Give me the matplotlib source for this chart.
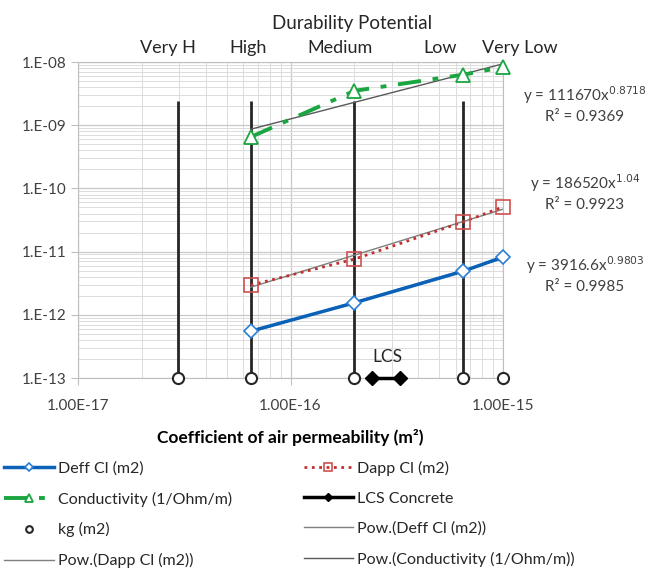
import numpy as np
import matplotlib
matplotlib.use("Agg")
import matplotlib.pyplot as plt
from matplotlib.ticker import LogLocator, NullFormatter

plt.rcParams['font.family'] = ['Lato', 'DejaVu Sans']

# data
perm = [6.5e-17, 2e-16, 6.5e-16, 1e-15]
deff = [5.5e-13, 1.55e-12, 4.9e-12, 8.2e-12]
dapp = [2.95e-12, 7.6e-12, 2.95e-11, 5.1e-11]
cond = [6.5e-10, 3.5e-9, 6.3e-9, 8.3e-9]

lcs_x = [2.42e-16, 3.27e-16]
lcs_y = [1e-13, 1e-13]

kg_x = [2.95e-17, 6.5e-17, 2e-16, 6.5e-16, 1e-15]
kg_y = [1e-13, 1e-13, 1e-13, 1e-13, 1e-13]
kg_top = [2.4e-9, 2.4e-9, 2.4e-9, 2.4e-9, 1e-13]

# power trendlines (coef, exponent, R2) as printed on the chart
fit_deff = (3916.6, 0.9803, 0.9985)
fit_dapp = (186520, 1.04, 0.9923)
fit_cond = (111670, 0.8718, 0.9369)

potential = ["Very H", "High", "Medium", "Low", "Very Low"]
potential_x = [2.65e-17, 6.3e-17, 1.71e-16, 5.06e-16, 1.2e-15]


def power(fit, x):
    return fit[0] * np.asarray(x) ** fit[1]


fig = plt.figure(figsize=(6.49, 5.72), dpi=100)
ax = fig.add_axes([78 / 649, 1 - 378 / 572, 425 / 649, 316 / 572])
ax.set_xscale('log')
ax.set_yscale('log')
ax.set_xlim(1e-17, 1e-15)
ax.set_ylim(1e-13, 1e-8)

ax.xaxis.set_minor_locator(LogLocator(base=10, subs=np.arange(2, 10)))
ax.yaxis.set_minor_locator(LogLocator(base=10, subs=np.arange(2, 10)))
ax.xaxis.set_minor_formatter(NullFormatter())
ax.yaxis.set_minor_formatter(NullFormatter())
ax.grid(True, which='major', color='#c8c8c8', lw=0.9)
ax.grid(True, which='minor', color='#dcdcdc', lw=0.7)
ax.set_axisbelow(True)
for s in ax.spines.values():
    s.set_color('#bfbfbf')
ax.tick_params(which='minor', length=0)
ax.tick_params(which='major', length=5, color='#bfbfbf', labelsize=11,
               labelcolor='#404040')
ax.tick_params(axis='x', which='major', pad=10)

ax.set_xticks([1e-17, 1e-16, 1e-15])
ax.set_xticklabels(["1.00E-17", "1.00E-16", "1.00E-15"])
yt = [1e-13, 1e-12, 1e-11, 1e-10, 1e-9, 1e-8]
ax.set_yticks(yt)
ax.set_yticklabels(["1.E-13", "1.E-12", "1.E-11", "1.E-10", "1.E-09", "1.E-08"])

# vertical drop lines for kg classes
ax.vlines(kg_x, kg_y, kg_top, color='#262626', lw=2, zorder=3)

xs = np.logspace(np.log10(perm[0]), np.log10(perm[-1]), 50)
h_deff, = ax.plot(perm, deff, '-', color='#0a62b8', lw=2.5, marker='D', ms=7,
                  mfc='white', mec='#2a7fd4', mew=1.2, zorder=5,
                  clip_on=False, label="Deff Cl (m2)")
h_dapp, = ax.plot(perm, dapp, ':', color='#c0302e', lw=2, marker='s', ms=10,
                  mfc='none', mec='#d05050', mew=1.2, zorder=5,
                  clip_on=False, label="Dapp Cl (m2)")
h_cond, = ax.plot(perm, cond, color='#1aa541', lw=2.8, dashes=(6, 3, 1.5, 3),
                  marker='^', ms=10, mfc='white', mec='#1aa541', mew=1.3,
                  zorder=5, clip_on=False, label="Conductivity (1/Ohm/m)")
h_lcs, = ax.plot(lcs_x, lcs_y, '-', color='black', lw=2.5, marker='D', ms=7,
                 zorder=6, clip_on=False, label="LCS Concrete")
h_kg, = ax.plot(kg_x, kg_y, 'o', ms=8, mfc='white', mec='#262626', mew=1.5,
                ls='none', zorder=6, clip_on=False, label="kg (m2)")
h_pdeff, = ax.plot(xs, power(fit_deff, xs), '-', color='#7f7f7f', lw=1,
                   zorder=4, label="Pow.(Deff Cl (m2))")
h_pdapp, = ax.plot(xs, power(fit_dapp, xs), '-', color='#7f7f7f', lw=1,
                   zorder=4, label="Pow.(Dapp Cl (m2))")
h_pcond, = ax.plot(xs, power(fit_cond, xs), '-', color='#595959', lw=1,
                   zorder=4, label="Pow.(Conductivity (1/Ohm/m))")

ax.text(2.85e-16, 1.6e-13, "LCS", fontsize=12.5, ha='center', va='bottom',
        color='#262626')

# durability potential labels above the plot
for lab, px in zip(potential, potential_x):
    ax.text(px, 1.66e-8, lab, fontsize=13, ha='center', va='center',
            color='#262626', clip_on=False)
fig.text(352 / 649, 1 - 23 / 572, "Durability Potential", fontsize=13.5,
         ha='center', va='center', color='#262626')

# trendline equations
eqs = [(fit_cond, 95, 117), (fit_dapp, 183, 205), (fit_deff, 265, 287)]
for fit, y1, y2 in eqs:
    c = ("%g" % fit[0])
    fig.text(585 / 649, 1 - y1 / 572, r"y = %sx$^{%s}$" % (c, "%g" % fit[1]),
             fontsize=11, ha='center', va='center', color='#404040')
    fig.text(585 / 649, 1 - y2 / 572, "R² = %.4f" % fit[2],
             fontsize=11, ha='center', va='center', color='#404040')

ax.set_xlabel("Coefficient of air permeability (m²)", fontsize=12.5,
              fontweight='bold', color='black', labelpad=12)

handles = [h_deff, h_cond, h_kg, h_pdapp, h_dapp, h_lcs, h_pdeff, h_pcond]
fig.legend(handles=handles, loc='upper left', ncol=2,
           bbox_to_anchor=(4 / 649, 1 - 461 / 572), frameon=False,
           fontsize=11.5, borderpad=0, borderaxespad=0, markerscale=0.6,
           handlelength=3.1, columnspacing=4.5, labelspacing=0.98,
           handletextpad=0.25, labelcolor='#262626')

fig.savefig("out.png", dpi=100)
